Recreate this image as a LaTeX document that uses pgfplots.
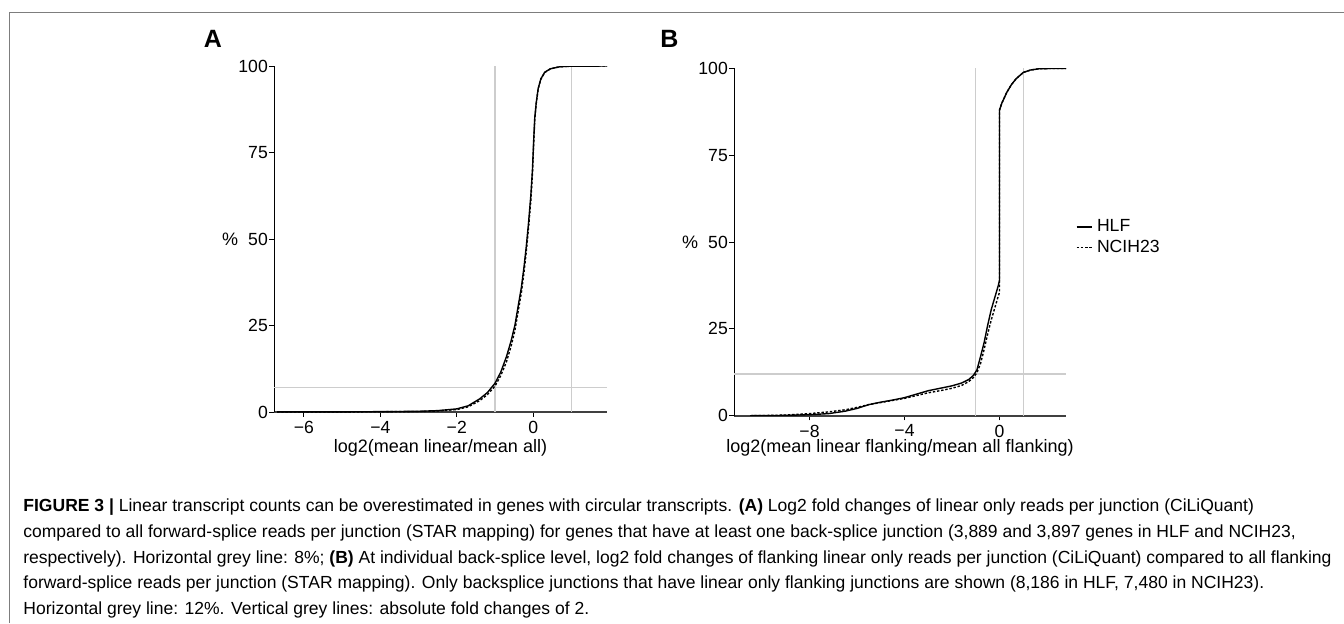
\documentclass[border=0pt]{standalone}
\usepackage{fontspec}
\setmainfont{Liberation Sans}
\usepackage{pgfplots}
\pgfplotsset{compat=1.18}
\definecolor{refgrey}{RGB}{205,205,205}
\definecolor{framegrey}{RGB}{125,125,125}

% cumulative % curves
\pgfplotstableread{
x y
-6.70 0.03
-5.00 0.05
-4.00 0.10
-3.00 0.20
-2.50 0.40
-2.00 0.90
-1.70 1.80
-1.40 3.80
-1.20 5.60
-1.00 8.30
-0.85 11.5
-0.70 16.0
-0.58 20.5
-0.48 25.0
-0.38 31.5
-0.31 36.0
-0.24 42.0
-0.18 48.0
-0.12 55.0
-0.06 63.0
-0.02 70.0
0.01 78.0
0.04 85.0
0.08 89.5
0.13 93.5
0.20 96.3
0.30 98.2
0.45 99.2
0.70 99.8
1.00 99.95
1.93 100
}\hlfA
\pgfplotstableread{
x y
-6.70 0.02
-5.00 0.04
-4.00 0.08
-3.00 0.15
-2.50 0.30
-2.00 0.70
-1.70 1.50
-1.40 3.30
-1.20 5.00
-1.00 7.50
-0.85 10.5
-0.70 14.5
-0.58 19.0
-0.48 23.5
-0.38 30.0
-0.31 34.5
-0.24 40.5
-0.18 46.5
-0.12 53.5
-0.06 61.5
-0.02 69.0
0.01 77.0
0.04 84.5
0.08 89.3
0.13 93.4
0.20 96.2
0.30 98.1
0.45 99.2
0.70 99.8
1.00 99.95
1.93 100
}\nciA
\pgfplotstableread{
x y
-10.5 0
-9.5 0.05
-9.0 0.10
-8.0 0.30
-7.2 0.60
-6.5 1.30
-6.0 2.10
-5.5 3.20
-5.0 3.90
-4.5 4.50
-4.0 5.20
-3.5 6.20
-3.0 7.20
-2.5 7.90
-2.0 8.60
-1.6 9.40
-1.3 10.4
-1.1 11.6
-0.95 13.2
-0.80 17.0
-0.65 21.0
-0.50 26.0
-0.35 30.5
-0.20 34.0
-0.05 37.5
0.00 39.0
0.00 88.0
0.10 90.0
0.30 93.0
0.50 95.3
0.70 97.0
1.00 98.8
1.30 99.5
1.70 99.9
2.80 100
}\hlfB
\pgfplotstableread{
x y
-10.5 0
-9.5 0.10
-9.0 0.20
-8.0 0.60
-7.2 1.10
-6.5 1.70
-6.0 2.40
-5.5 3.20
-5.0 3.80
-4.5 4.40
-4.0 5.00
-3.5 5.80
-3.0 6.60
-2.5 7.20
-2.0 7.90
-1.6 8.70
-1.3 9.80
-1.1 11.0
-0.95 12.4
-0.80 15.0
-0.65 19.0
-0.50 23.5
-0.35 27.5
-0.20 31.0
-0.05 34.5
0.00 35.5
0.00 88.0
0.10 90.0
0.30 93.0
0.50 95.3
0.70 97.0
1.00 98.8
1.30 99.5
1.70 99.9
2.80 100
}\nciB

\pgfplotsset{
  cdfpanel/.style={
    scale only axis,
    axis x line=bottom, axis y line=left,
    axis line style={-},
    x axis line style={line width=0.9pt, black!75},
    y axis line style={line width=0.5pt, black},
    tick align=outside, major tick length=2.3pt,
    tick style={black, line width=0.5pt},
    ymin=0, ymax=100, ytick={0,25,50,75,100},
    yticklabels={0,25,50,75,100},
    ticklabel style={font=\fontsize{8.8}{10}\selectfont},
    yticklabel style={inner sep=0.6pt},
    xticklabel style={inner sep=0.5pt, yshift=-1.5pt},
    label style={font=\fontsize{9}{11}\selectfont},
    ylabel={\%},
    ylabel style={rotate=-90, at={(axis description cs:0,0.5)}, anchor=center, xshift=-22pt},
    xlabel style={at={(axis description cs:0.5,0)}, anchor=center, inner sep=1pt},
  },
  curve/.style={black, line width=0.7pt, no markers},
  nci/.style={curve, dash pattern=on 1.2pt off 0.9pt},
  grid line/.style={refgrey, line width=0.6pt, no markers, forget plot},
}

\begin{document}
\begin{tikzpicture}
\useasboundingbox (0pt,0pt) rectangle (672pt,-311.5pt);
\draw[framegrey, line width=0.7pt] (4.65pt,-311.5pt) -- (4.65pt,-6.35pt) -- (672pt,-6.35pt);

% panel A
\begin{axis}[cdfpanel,
  at={(137pt,-206pt)}, anchor=south west,
  width=166.5pt, height=173pt,
  xmin=-6.78, xmax=1.93,
  xtick={-6,-4,-2,0}, xticklabels={−6,−4,−2,0},
  xlabel={log2(mean linear/mean all)}, xlabel style={yshift=-18pt},
]
\addplot[grid line] coordinates {(-1,0) (-1,100)};
\addplot[grid line] coordinates {(1,0) (1,100)};
\addplot[grid line] coordinates {(-6.78,7) (1.93,7)};
\addplot[nci] table {\nciA};
\addplot[curve] table {\hlfA};
\end{axis}

% panel B
\begin{axis}[cdfpanel,
  at={(367pt,-207.85pt)}, anchor=south west,
  width=166pt, height=173.7pt,
  xmin=-11.18, xmax=2.8,
  xtick={-8,-4,0}, xticklabels={−8,−4,0},
  xlabel={log2(mean linear flanking/mean all flanking)}, xlabel style={yshift=-16.2pt},
  legend style={at={(axis description cs:1.029,0.514)}, anchor=west,
    draw=none, fill=none, inner sep=0pt, row sep=1.3pt,
    font=\fontsize{8.8}{10}\selectfont,
    nodes={inner sep=0.5pt, text height=6.5pt, text depth=1.5pt}},
  legend cell align=left,
  legend image code/.code={\draw[#1] (0pt,0pt) -- (7.5pt,0pt); \path (9.3pt,0pt);},
]
\addplot[grid line] coordinates {(-1,0) (-1,100)};
\addplot[grid line] coordinates {(1,0) (1,100)};
\addplot[grid line] coordinates {(-11.18,12) (2.8,12)};
\addplot[curve] table {\hlfB};
\addlegendentry{HLF}
\addplot[nci] table {\nciB};
\addlegendentry{NCIH23}
\end{axis}

\begin{scope}[x=0.5pt, y=-0.5pt]
\node[font=\fontsize{12.5}{14}\selectfont\bfseries] at (213,38.5) {A};
\node[font=\fontsize{12.5}{14}\selectfont\bfseries] at (669.5,39) {B};
\begin{scope}[every node/.style={anchor=base west, inner sep=0pt, font=\fontsize{8.76}{10}\selectfont}]
\node at (23,511) {\textbf{FIGURE 3 |} Linear transcript counts can be overestimated in genes with circular transcripts. \textbf{(A)} Log2 fold changes of linear only reads per junction (CiLiQuant)};
\node at (23,537) {compared to all forward-splice reads per junction (STAR mapping) for genes that have at least one back-splice junction (3,889 and 3,897 genes in HLF and NCIH23,};
\node at (23,563) {respectively). Horizontal grey line: 8\%; \textbf{(B)} At individual back-splice level, log2 fold changes of flanking linear only reads per junction (CiLiQuant) compared to all flanking};
\node at (23,588) {forward-splice reads per junction (STAR mapping). Only backsplice junctions that have linear only flanking junctions are shown (8,186 in HLF, 7,480 in NCIH23).};
\node at (23,614) {Horizontal grey line: 12\%. Vertical grey lines: absolute fold changes of 2.};
\end{scope}
\end{scope}
\end{tikzpicture}
\end{document}
